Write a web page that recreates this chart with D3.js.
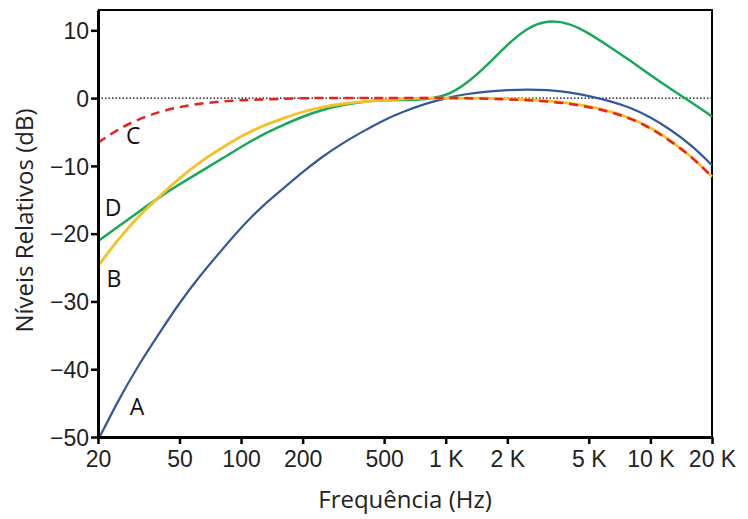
<!DOCTYPE html>
<html>
<head>
<meta charset="utf-8">
<script src="https://cdn.jsdelivr.net/npm/d3@7"></script>
<style>
body{margin:0;background:#fff;}
</style>
</head>
<body>
<div id="chart"></div>
<script>
let freqs=[20,25,31.5,40,50,63,80,100,125,160,200,250,315,400,500,630,800,1000,1250,1600,2000,2500,3150,4000,5000,6300,8000,10000,12500,16000,20000];
let curveA=[-50.5,-44.7,-39.4,-34.6,-30.2,-26.2,-22.5,-19.1,-16.1,-13.4,-10.9,-8.6,-6.6,-4.8,-3.2,-1.9,-0.8,0,0.6,1.0,1.2,1.3,1.2,0.9,0.3,-0.4,-1.4,-2.8,-4.6,-7.0,-9.9];
let curveB=[-24.8,-20.9,-17.4,-14.5,-11.8,-9.4,-7.4,-5.6,-4.2,-3.0,-2.0,-1.3,-0.8,-0.5,-0.3,-0.1,0,0,0,0,-0.1,-0.2,-0.4,-0.7,-1.2,-1.9,-2.9,-4.3,-6.2,-8.7,-11.6];
let curveC=[-6.6,-4.6,-3.1,-2.0,-1.3,-0.8,-0.5,-0.3,-0.2,-0.1,0,0,0,0,0,0,0,0,0,-0.1,-0.2,-0.3,-0.5,-0.8,-1.3,-2.0,-3.0,-4.4,-6.3,-8.7,-11.6];
let curveD=[-21.1,-19.0,-16.8,-14.6,-12.7,-10.9,-9.0,-7.2,-5.5,-4.0,-2.7,-1.7,-1.0,-0.5,-0.3,-0.3,-0.2,0.3,2.0,4.9,7.9,10.4,11.5,11.1,9.6,7.6,5.5,3.4,1.4,-0.7,-2.7];
let xTicks=[20,50,100,200,500,1000,2000,5000,10000,20000];
let xTickLabels=["20","50","100","200","500","1 K","2 K","5 K","10 K","20 K"];
let yTicks=[-50,-40,-30,-20,-10,0,10];
let labelNames=["C","D","B","A"];
let labelFreq=[29.7,23.7,23.9,31];
let labelDb=[-5.5,-16.2,-26.7,-45.6];

let width=748, height=519;
let margin={left:98,right:36,top:10,bottom:82};
let tickFont="'Liberation Sans',Arial,sans-serif";
let titleFont="'Open Sans',sans-serif";

let svg=d3.select("#chart").append("svg")
.attr("width",width)
.attr("height",height);

let xscale=d3.scaleLog().domain([20,20000]).range([margin.left,width-margin.right]);
let yscale=d3.scaleLinear().domain([-50,13]).range([height-margin.bottom,margin.top]);

// frame top/right
svg.append("path")
.attr("d","M"+margin.left+","+margin.top+"H"+(width-margin.right)+"V"+(height-margin.bottom))
.attr("fill","none").attr("stroke","#000").attr("stroke-width",2);

// zero line
svg.append("line")
.attr("x1",xscale(20)).attr("x2",xscale(20000))
.attr("y1",yscale(0)).attr("y2",yscale(0))
.attr("stroke","#000").attr("stroke-width",1.2).attr("stroke-dasharray","1.5,2");

let line=d3.line()
.x(function(d,i){return xscale(freqs[i]);})
.y(function(d){return yscale(d);})
.curve(d3.curveBasis);

let plot=svg.append("g");
plot.append("path").datum(curveA).attr("d",line).attr("fill","none").attr("stroke","#34589A").attr("stroke-width",2.2);
plot.append("path").datum(curveD).attr("d",line).attr("fill","none").attr("stroke","#17A85A").attr("stroke-width",2.5);
plot.append("path").datum(curveB).attr("d",line).attr("fill","none").attr("stroke","#F6C02A").attr("stroke-width",2.8);
plot.append("path").datum(curveC).attr("d",line).attr("fill","none").attr("stroke","#E8231F").attr("stroke-width",2.5).attr("stroke-dasharray","9,6");

let xAxis=d3.axisBottom(xscale).tickValues(xTicks)
.tickFormat(function(d,i){return xTickLabels[i];})
.tickSize(7).tickSizeOuter(0).tickPadding(5);
let yAxis=d3.axisLeft(yscale).tickValues(yTicks)
.tickFormat(function(d){return d<0?"\u2212"+Math.abs(d):d;})
.tickSize(7).tickSizeOuter(0).tickPadding(2);

let gx=svg.append("g")
.attr("transform","translate(0,"+(height-margin.bottom)+")")
.call(xAxis);
let gy=svg.append("g")
.attr("transform","translate("+margin.left+",0)")
.call(yAxis);
[gx,gy].forEach(function(g){
  g.attr("font-family",tickFont).attr("font-size",23);
  g.select(".domain").attr("stroke-width",3);
  g.selectAll(".tick line").attr("stroke-width",2.5);
  g.selectAll(".tick text").attr("fill","#222").style("white-space","pre");
});
gx.selectAll(".tick text").attr("dy","0.8em");
gy.selectAll(".tick text").attr("dy","0.36em");

svg.selectAll(".curvelabel")
.data(labelNames)
.enter()
.append("text")
.attr("class","curvelabel")
.attr("x",function(d,i){return xscale(labelFreq[i]);})
.attr("y",function(d,i){return yscale(labelDb[i]);})
.attr("text-anchor","middle")
.attr("dy","0.36em")
.attr("font-family",titleFont)
.attr("font-size",23)
.attr("fill","#111")
.text(function(d){return d;});

svg.append("text")
.attr("x",(margin.left+width-margin.right)/2)
.attr("y",508)
.attr("text-anchor","middle")
.attr("font-family",titleFont)
.attr("font-size",24)
.attr("fill","#222")
.text("Frequência (Hz)");

svg.append("text")
.attr("transform","translate(33,"+((margin.top+height-margin.bottom)/2-3)+") rotate(-90)")
.attr("text-anchor","middle")
.attr("font-family",titleFont)
.attr("font-size",24)
.attr("fill","#222")
.text("Níveis Relativos (dB)");
</script>
</body>
</html>
